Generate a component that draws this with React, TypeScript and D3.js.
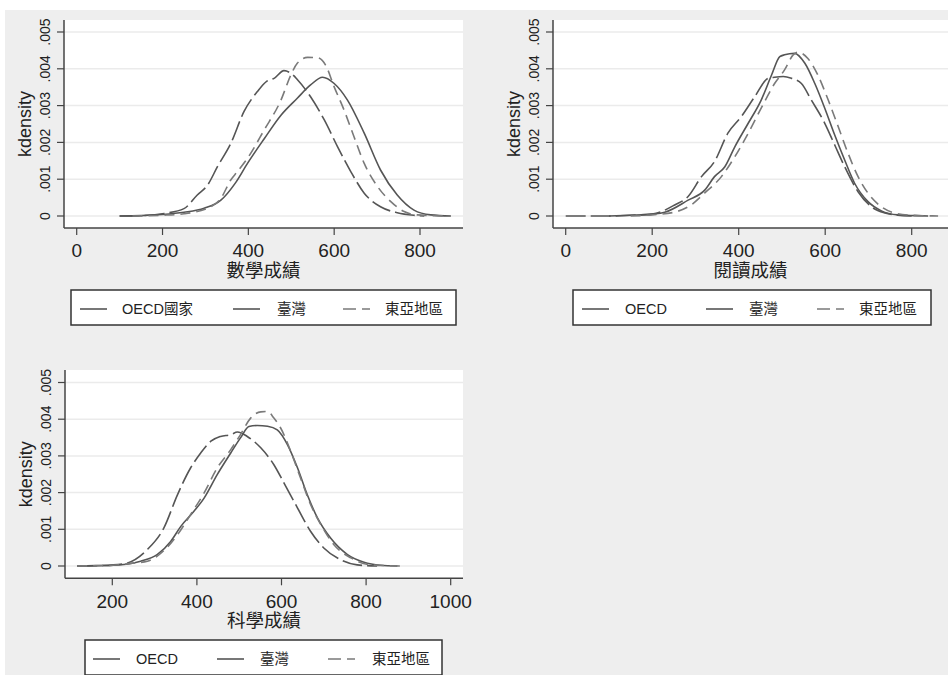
import React, { useEffect, useRef } from "react";
import * as d3 from "d3";

type Pt = [number, number];

// kdensity curves: [score, density]
const mathOECD: Pt[] = [[100, 0], [150, 0.00001], [200, 0.00004], [250, 0.0001], [297, 0.00021], [336, 0.00043], [370, 0.0009], [398, 0.00143], [437, 0.0021], [476, 0.00274], [514, 0.0032], [545, 0.00356], [573, 0.00377], [600, 0.0036], [631, 0.00315], [670, 0.00225], [708, 0.00125], [747, 0.00057], [786, 0.00016], [825, 0.00003], [872, 0]];
const mathTaiwan: Pt[] = [[100, 0], [150, 0.00001], [204, 0.00007], [250, 0.0002], [281, 0.00057], [305, 0.00084], [328, 0.00134], [359, 0.00197], [390, 0.00284], [421, 0.00338], [444, 0.00367], [460, 0.00374], [483, 0.00395], [499, 0.00388], [514, 0.00371], [545, 0.00324], [577, 0.00261], [608, 0.00188], [639, 0.0012], [670, 0.00062], [708, 0.00025], [747, 0.00009], [786, 0.00002], [810, 0]];
const mathEastAsia: Pt[] = [[130, 0], [200, 0.00002], [250, 0.00006], [312, 0.00025], [336, 0.00048], [359, 0.00098], [374, 0.0012], [398, 0.00157], [437, 0.00234], [476, 0.00315], [499, 0.00383], [514, 0.00415], [538, 0.00431], [561, 0.0043], [580, 0.0041], [600, 0.00351], [623, 0.00288], [646, 0.00216], [670, 0.00143], [701, 0.0008], [732, 0.00039], [763, 0.00012], [794, 0.00003], [864, 0]];

const readOECD: Pt[] = [[100, 0], [150, 0.00002], [200, 0.00005], [229, 0.0001], [283, 0.00043], [322, 0.00071], [344, 0.00107], [368, 0.00134], [391, 0.00188], [422, 0.00252], [452, 0.00315], [476, 0.00383], [495, 0.00433], [506, 0.00438], [529, 0.00442], [553, 0.00415], [576, 0.0036], [599, 0.00293], [622, 0.0022], [645, 0.00152], [668, 0.00089], [699, 0.00039], [730, 0.00014], [768, 0.00003], [807, 0.00001], [838, 0]];
const readTaiwan: Pt[] = [[0, 0], [100, 0], [150, 0.00002], [200, 0.00005], [252, 0.0003], [283, 0.00053], [314, 0.00107], [344, 0.00148], [375, 0.00225], [406, 0.0027], [437, 0.00324], [468, 0.00374], [483, 0.00377], [503, 0.00379], [522, 0.00374], [545, 0.0036], [568, 0.00315], [599, 0.00252], [622, 0.00193], [645, 0.00134], [676, 0.00066], [707, 0.00025], [738, 0.00008], [768, 0.00002], [800, 0]];
const readEastAsia: Pt[] = [[150, 0], [200, 0.00003], [250, 0.0001], [290, 0.0003], [321, 0.00062], [360, 0.00107], [391, 0.00161], [422, 0.00225], [452, 0.00293], [483, 0.0036], [506, 0.00397], [526, 0.00438], [537, 0.00445], [560, 0.00428], [583, 0.00383], [607, 0.00315], [630, 0.00243], [653, 0.0017], [676, 0.00107], [699, 0.00062], [730, 0.00025], [761, 0.00008], [799, 0.00002], [861, 0]];

const sciOECD: Pt[] = [[117, 0], [160, 0.00001], [204, 0.00002], [267, 0.00013], [306, 0.00031], [338, 0.00067], [362, 0.00108], [393, 0.00149], [417, 0.00185], [448, 0.00249], [480, 0.00308], [503, 0.00349], [523, 0.0038], [543, 0.00383], [567, 0.00381], [590, 0.00371], [614, 0.00331], [638, 0.00267], [661, 0.00194], [685, 0.00131], [716, 0.00076], [756, 0.00031], [795, 0.0001], [834, 0.00002], [874, 0]];
const sciTaiwan: Pt[] = [[117, 0], [170, 0.00001], [228, 0.00006], [283, 0.00045], [322, 0.00104], [354, 0.00194], [385, 0.00267], [409, 0.00308], [433, 0.0034], [456, 0.00353], [480, 0.00358], [496, 0.00365], [519, 0.00353], [551, 0.00322], [582, 0.00276], [606, 0.00226], [638, 0.00158], [669, 0.00094], [700, 0.00049], [740, 0.00017], [779, 0.00003], [826, 0]];
const sciEastAsia: Pt[] = [[117, 0], [200, 0.00002], [250, 0.00008], [283, 0.00013], [322, 0.00042], [354, 0.00085], [385, 0.0014], [417, 0.00199], [448, 0.00267], [480, 0.00317], [503, 0.00358], [527, 0.00403], [551, 0.0042], [567, 0.00421], [582, 0.00403], [598, 0.00376], [622, 0.00312], [645, 0.0024], [669, 0.00167], [693, 0.00113], [724, 0.00058], [764, 0.00022], [811, 0.00003], [886, 0]];

const mathLegend = ["OECD國家", "臺灣", "東亞地區"];
const otherLegend = ["OECD", "臺灣", "東亞地區"];
const densityTicks = [0, 0.001, 0.002, 0.003, 0.004, 0.005];
const scoreTicks = [0, 200, 400, 600, 800];
const scienceTicks = [200, 400, 600, 800, 1000];
const axisTitles = ["數學成績", "閱讀成績", "科學成績"];

const font = "'Liberation Sans', Arial, 'Noto Sans CJK TC', sans-serif";
const lineStyles = [
  { color: "#555", dash: null },
  { color: "#555", dash: "20,5" },
  { color: "#7a7a7a", dash: "10,6" },
];

const panels = [
  {
    title: axisTitles[0], series: [mathOECD, mathTaiwan, mathEastAsia], labels: mathLegend, ticks: scoreTicks,
    left: 64, right: 463, top: 20, bottom: 228, xDomain: [0, 800], xRange: [76.7, 420], yRange: [216, 32],
    legend: { x: 71, y: 290, w: 385, samples: [80, 233, 343], texts: [122, 277, 385] },
  },
  {
    title: axisTitles[1], series: [readOECD, readTaiwan, readEastAsia], labels: otherLegend, ticks: scoreTicks,
    left: 553, right: 948, top: 20, bottom: 228, xDomain: [0, 800], xRange: [565.7, 911.7], yRange: [216, 32],
    legend: { x: 573, y: 290, w: 358, samples: [582, 706, 817], texts: [625, 749, 859] },
  },
  {
    title: axisTitles[2], series: [sciOECD, sciTaiwan, sciEastAsia], labels: otherLegend, ticks: scienceTicks,
    left: 65, right: 463, top: 370, bottom: 578.3, xDomain: [200, 1000], xRange: [112.3, 450.7], yRange: [566, 382.5],
    legend: { x: 85, y: 640, w: 357, samples: [93, 217, 328], texts: [136, 260, 372] },
  },
];

const App = () => {
  const ref = useRef<SVGSVGElement>(null);

  useEffect(() => {
    const svg = d3.select(ref.current);
    svg.selectAll("*").remove();

    svg.append("rect").attr("x", 5).attr("y", 10).attr("width", 943).attr("height", 665).attr("fill", "#eeeeee");

    panels.forEach((p) => {
      const x = d3.scaleLinear().domain(p.xDomain).range(p.xRange);
      const y = d3.scaleLinear().domain([0, 0.005]).range(p.yRange);
      const g = svg.append("g").style("font-family", font);

      g.append("rect")
        .attr("x", p.left).attr("y", p.top)
        .attr("width", p.right - p.left).attr("height", p.bottom - p.top)
        .attr("fill", "#fff");

      g.selectAll(".grid").data(densityTicks).enter().append("line")
        .attr("x1", p.left).attr("x2", p.right)
        .attr("y1", (d) => y(d)).attr("y2", (d) => y(d))
        .attr("stroke", "#ebebeb").attr("stroke-width", 1.5);

      const line = d3.line<Pt>()
        .x((d) => x(d[0]))
        .y((d) => y(d[1]))
        .curve(d3.curveMonotoneX);

      p.series.forEach((s, i) => {
        g.append("path")
          .attr("d", line(s))
          .attr("fill", "none")
          .attr("stroke", lineStyles[i].color)
          .attr("stroke-width", 1.6)
          .attr("stroke-dasharray", lineStyles[i].dash);
      });

      // axes
      g.append("line").attr("x1", p.left).attr("x2", p.left).attr("y1", p.top).attr("y2", p.bottom)
        .attr("stroke", "#444").attr("stroke-width", 1.5);
      g.append("line").attr("x1", p.left).attr("x2", p.right).attr("y1", p.bottom).attr("y2", p.bottom)
        .attr("stroke", "#444").attr("stroke-width", 1.5);

      g.selectAll(".ytick").data(densityTicks).enter().append("line")
        .attr("x1", p.left - 7).attr("x2", p.left)
        .attr("y1", (d) => y(d)).attr("y2", (d) => y(d))
        .attr("stroke", "#444").attr("stroke-width", 1.2);
      g.selectAll(".ylab").data(densityTicks).enter().append("text")
        .attr("transform", (d) => `translate(${p.left - 14.5},${y(d)}) rotate(-90)`)
        .attr("text-anchor", "middle")
        .attr("font-size", 14)
        .attr("fill", "#222")
        .text((d) => (d === 0 ? "0" : d3.format(".3f")(d).replace(/^0/, "")));

      g.selectAll(".xtick").data(p.ticks).enter().append("line")
        .attr("x1", (d) => x(d)).attr("x2", (d) => x(d))
        .attr("y1", p.bottom).attr("y2", p.bottom + 7)
        .attr("stroke", "#444").attr("stroke-width", 1.2);
      g.selectAll(".xlab").data(p.ticks).enter().append("text")
        .attr("x", (d) => x(d)).attr("y", p.bottom + 29.3)
        .attr("text-anchor", "middle")
        .attr("font-size", 19)
        .attr("fill", "#222")
        .text((d) => String(d));

      g.append("text")
        .attr("transform", `translate(${p.left - 33},${(p.top + p.bottom) / 2}) rotate(-90)`)
        .attr("text-anchor", "middle").attr("font-size", 18).attr("fill", "#222")
        .text("kdensity");
      g.append("text")
        .attr("x", (p.left + p.right) / 2).attr("y", p.bottom + 49)
        .attr("text-anchor", "middle").attr("font-size", 18.5).attr("fill", "#222")
        .text(p.title);

      // legend
      const lg = p.legend;
      g.append("rect").attr("x", lg.x).attr("y", lg.y).attr("width", lg.w).attr("height", 35)
        .attr("fill", "#fff").attr("stroke", "#333").attr("stroke-width", 1.5);
      p.labels.forEach((lab, i) => {
        g.append("line")
          .attr("x1", lg.samples[i]).attr("x2", lg.samples[i] + 27)
          .attr("y1", lg.y + 19).attr("y2", lg.y + 19)
          .attr("stroke", lineStyles[i].color).attr("stroke-width", 1.6)
          .attr("stroke-dasharray", i === 2 ? "13,6" : null);
        g.append("text")
          .attr("x", lg.texts[i]).attr("y", lg.y + 24)
          .attr("font-size", 14.5).attr("fill", "#222")
          .text(lab);
      });
    });
  }, []);

  return (
    <svg ref={ref} width={948} height={675} style={{ position: "absolute", left: 0, top: 0, background: "#fff" }} />
  );
};

export default App;
